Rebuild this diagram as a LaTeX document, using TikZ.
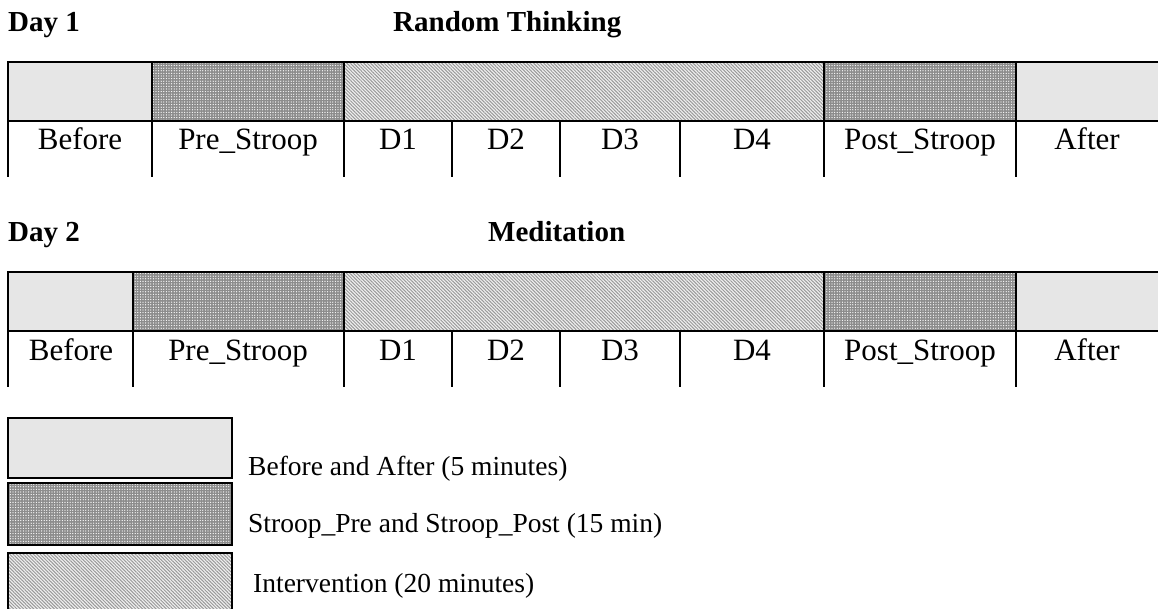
\documentclass[tikz,border=0pt]{standalone}
\usepackage{fontspec}
\setmainfont{Liberation Serif}
\usetikzlibrary{patterns,patterns.meta}
\definecolor{lightfill}{HTML}{E6E6E6}
\definecolor{darkfill}{HTML}{8C8C8C}
\definecolor{hatchfill}{HTML}{F0F0F0}
\definecolor{hatchline}{HTML}{999999}
\tikzset{
  gridline/.style={line width=2.9pt, line cap=rect},
  plainfill/.style={fill=lightfill},
  stroopfill/.style={preaction={fill=darkfill}, pattern={Dots[distance=2.6pt, radius=0.65pt]}, pattern color=white},
  interfill/.style={preaction={fill=hatchfill}, pattern={Lines[angle=-45, distance=2.4pt, line width=1.0pt]}, pattern color=hatchline},
  cell/.style={font=\fontsize{31}{36}\selectfont, anchor=base, inner sep=0pt},
  daytitle/.style={font=\fontsize{29}{34}\selectfont\bfseries, anchor=base west, inner sep=0pt},
  legtext/.style={font=\fontsize{27.5}{32}\selectfont, anchor=base west, inner sep=0pt},
}
\begin{document}
\begin{tikzpicture}[x=1pt, y=-1pt]
\useasboundingbox (0,0) rectangle (1158,609);

% ---------- Day 1 ----------
\node[daytitle] (day1) at (8,32) {Day 1};
\node[daytitle] (rt) at (393,32) {Random Thinking};

\path[plainfill]  (8,62) rectangle (152,121);
\path[stroopfill] (152,62) rectangle (344,121);
\path[interfill]  (344,62) rectangle (824,121);
\path[stroopfill] (824,62) rectangle (1016,121);
\path[plainfill]  (1016,62) rectangle (1158,121);

\draw[gridline] (8,62) -- (1160,62);
\draw[gridline] (8,121) -- (1160,121);
\foreach \x in {8,152,344,824,1016} \draw[gridline] (\x,62) -- (\x,176);
\foreach \x in {452,560,680} \draw[gridline] (\x,121) -- (\x,176);

\node[cell] (a1) at (80,150) {Before};
\node[cell] (a2) at (248,150) {Pre\_Stroop};
\node[cell] (a3) at (398,150) {D1};
\node[cell] (a4) at (506,150) {D2};
\node[cell] (a5) at (620,150) {D3};
\node[cell] (a6) at (752,150) {D4};
\node[cell] (a7) at (920,150) {Post\_Stroop};
\node[cell] (a8) at (1087,150) {After};

% ---------- Day 2 ----------
\node[daytitle] (day2) at (8,242) {Day 2};
\node[daytitle] (med) at (488,242) {Meditation};

\path[plainfill]  (8,272) rectangle (133,331);
\path[stroopfill] (133,272) rectangle (344,331);
\path[interfill]  (344,272) rectangle (824,331);
\path[stroopfill] (824,272) rectangle (1016,331);
\path[plainfill]  (1016,272) rectangle (1158,331);

\draw[gridline] (8,272) -- (1160,272);
\draw[gridline] (8,331) -- (1160,331);
\foreach \x in {8,133,344,824,1016} \draw[gridline] (\x,272) -- (\x,386);
\foreach \x in {452,560,680} \draw[gridline] (\x,331) -- (\x,386);

\node[cell] (b1) at (71,360) {Before};
\node[cell] (b2) at (238,360) {Pre\_Stroop};
\node[cell] (b3) at (398,360) {D1};
\node[cell] (b4) at (506,360) {D2};
\node[cell] (b5) at (620,360) {D3};
\node[cell] (b6) at (752,360) {D4};
\node[cell] (b7) at (920,360) {Post\_Stroop};
\node[cell] (b8) at (1087,360) {After};

% ---------- Legend ----------
\path[plainfill]  (8,418) rectangle (232,478);
\draw[gridline] (8,418) rectangle (232,478);
\path[stroopfill] (8,483) rectangle (232,545);
\draw[gridline] (8,483) rectangle (232,545);
\path[interfill]  (8,553) rectangle (232,612);
\draw[gridline] (8,612) -- (8,553) -- (232,553) -- (232,612);

\node[legtext] (l1) at (248,475) {Before and After (5 minutes)};
\node[legtext] (l2) at (248,532) {Stroop\_Pre and Stroop\_Post (15 min)};
\node[legtext] (l3) at (253,592) {Intervention (20 minutes)};
\end{tikzpicture}
\end{document}
